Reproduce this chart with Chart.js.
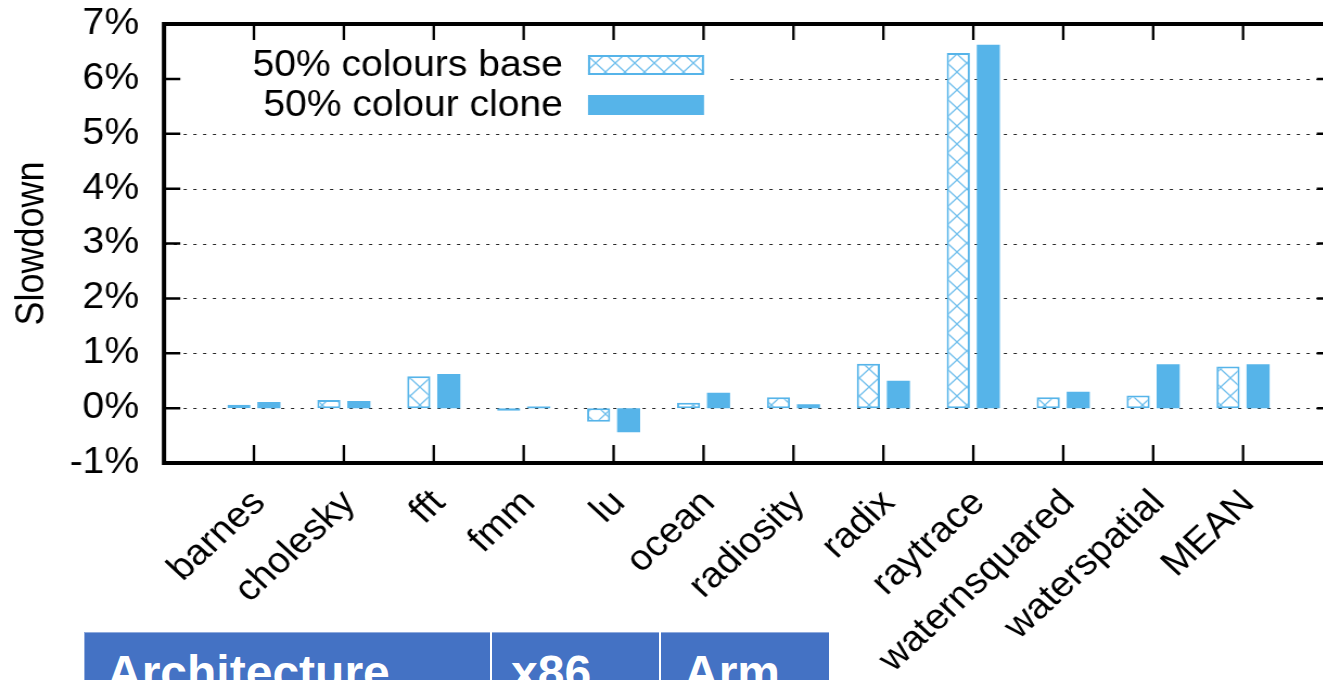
<!DOCTYPE html>
<html>
<head>
<meta charset="utf-8">
<script src="https://cdn.jsdelivr.net/npm/chart.js@4.4.0/dist/chart.umd.min.js"></script>
<style>
  html, body { margin: 0; padding: 0; overflow: hidden; background: #fff; }
  #page { position: relative; width: 1323px; height: 680px; overflow: hidden; }
  /* the original figure is a little wider than it is tall, so stretch it */
  #wrap { position: absolute; left: 0; top: 0; transform: scaleX(1.085); transform-origin: 0 0; }
  #arch { position: absolute; left: 84px; top: 632px; border-collapse: collapse; }
  #arch td {
    background: #4472c4; color: #fff; height: 60px; padding: 0 0 0 22px;
    font: bold 48px "Liberation Sans", Arial, sans-serif; line-height: 48px;
    vertical-align: top; border-left: 2px solid #fff; border-top: 1px solid #8faadc;
  }
  #arch td:first-child { border-left: 1px solid #8faadc; }
  #arch td span { position: relative; top: 16px; }
</style>
</head>
<body>
<div id="page">
  <div id="wrap">
    <canvas id="slowdown_chart" width="1240" height="680"></canvas>
  </div>
  <table id="arch"><tr>
    <td style="width:383px"><span>Architecture</span></td>
    <td style="width:148px; padding-left:19px"><span>x86</span></td>
    <td style="width:145px; padding-left:23px"><span>Arm</span></td>
  </tr></table>
</div>
<script>
const categories = ["barnes", "cholesky", "fft", "fmm", "lu", "ocean", "radiosity",
  "radix", "raytrace", "waternsquared", "waterspatial", "MEAN"];
const baseValues = [0.06, 0.15, 0.58, -0.05, -0.25, 0.10, 0.20, 0.81, 6.47, 0.20, 0.23, 0.76];
const cloneValues = [0.11, 0.13, 0.62, 0.03, -0.44, 0.28, 0.07, 0.50, 6.62, 0.30, 0.80, 0.80];
const yTicks = [-1, 0, 1, 2, 3, 4, 5, 6, 7];
const seriesLabels = ["50% colours base", "50% colour clone"];

const BLUE = "#56b4e9";
const FONT = "'Liberation Sans', Arial, sans-serif";
const SX = 1.085; // horizontal stretch of the canvas

function makeHatch() {
  const c = document.createElement("canvas");
  c.width = 18;
  c.height = 18;
  const g = c.getContext("2d");
  g.fillStyle = "#fff";
  g.fillRect(0, 0, 18, 18);
  g.strokeStyle = "#72c0ed";
  g.lineWidth = 1.3;
  g.beginPath();
  g.moveTo(0, 0); g.lineTo(18, 18);
  g.moveTo(18, 0); g.lineTo(0, 18);
  g.stroke();
  return g.createPattern(c, "repeat");
}

const hatch = makeHatch();

const gnuplotFrame = {
  id: "gnuplotFrame",
  beforeDatasetsDraw(chart) {
    const { ctx, chartArea: a, scales } = chart;
    ctx.save();
    ctx.strokeStyle = "rgba(0,0,0,0.85)";
    ctx.lineWidth = 1.2;
    ctx.setLineDash([3, 6]);
    yTicks.slice(1, -1).forEach((v) => {
      const y = Math.round(scales.y.getPixelForValue(v)) + 0.5;
      ctx.beginPath();
      ctx.moveTo(a.left, y);
      ctx.lineTo(a.right, y);
      ctx.stroke();
    });
    ctx.restore();
  },
  afterDatasetsDraw(chart) {
    const { ctx, chartArea: a } = chart;
    ctx.save();
    // legend box is opaque, it hides the grid behind it
    ctx.fillStyle = "#fff";
    ctx.fillRect(a.left + 3, 40, 726 / SX - a.left - 3, 84);
    ctx.font = "36px " + FONT;
    ctx.textAlign = "right";
    ctx.textBaseline = "middle";
    const rows = [65, 105];
    const sx = 588 / SX;
    const sw = 116 / SX;
    chart.data.datasets.forEach((ds, i) => {
      const y = rows[i];
      ctx.fillStyle = "#000";
      ctx.fillText(ds.label, 563 / SX, y + 1);
      ctx.fillStyle = ds.backgroundColor;
      ctx.fillRect(sx, y - 10, sw, 20);
      if (ds.borderWidth) {
        ctx.strokeStyle = ds.borderColor;
        ctx.lineWidth = ds.borderWidth;
        ctx.strokeRect(sx + 1, y - 9, sw - 2, 18);
      }
    });
    ctx.restore();
  },
  afterDraw(chart) {
    const { ctx, chartArea: a, scales } = chart;
    ctx.save();
    ctx.strokeStyle = "#000";
    ctx.lineWidth = 2.5;
    ctx.beginPath();
    yTicks.forEach((v) => {
      const y = scales.y.getPixelForValue(v);
      ctx.moveTo(a.left, y); ctx.lineTo(a.left + 15, y);
      ctx.moveTo(a.right, y); ctx.lineTo(a.right - 15, y);
    });
    ctx.stroke();
    ctx.lineWidth = 2.3;
    ctx.beginPath();
    categories.forEach((c, i) => {
      const x = scales.x.getPixelForValue(i);
      ctx.moveTo(x, a.bottom); ctx.lineTo(x, a.bottom - 18);
      ctx.moveTo(x, a.top); ctx.lineTo(x, a.top + 16);
    });
    ctx.stroke();
    ctx.lineWidth = 4;
    ctx.strokeRect(a.left, a.top, a.right - a.left, a.bottom - a.top);
    ctx.restore();
  },
};

function createSlowdownChart() {
  const ctx = document.getElementById("slowdown_chart");
  Chart.defaults.font.family = FONT;
  Chart.defaults.color = "#000";
  return new Chart(ctx, {
    type: "bar",
    data: {
      datasets: [
        {
          label: seriesLabels[0],
          data: baseValues.map((v, i) => ({ x: i, y: v })),
          backgroundColor: hatch,
          borderColor: BLUE,
          borderWidth: 2,
          borderSkipped: false,
        },
        {
          label: seriesLabels[1],
          data: cloneValues.map((v, i) => ({ x: i, y: v })),
          backgroundColor: BLUE,
          borderWidth: 0,
        },
      ],
    },
    options: {
      responsive: false,
      animation: false,
      categoryPercentage: 0.667,
      barPercentage: 0.77,
      layout: { padding: { top: 24, right: 1240 - 1333 / SX, bottom: 0, left: 0 } },
      plugins: {
        legend: { display: false },
        tooltip: { enabled: false },
      },
      scales: {
        x: {
          type: "linear",
          min: -1,
          max: 12,
          offset: false,
          grid: { display: false, offset: false, drawTicks: false },
          border: { display: false },
          afterBuildTicks: function (scale) {
            scale.ticks = categories.map((c, i) => ({ value: i }));
          },
          afterFit: function (scale) {
            scale.height = 217;
            scale.paddingLeft = 0;
            scale.paddingRight = 0;
          },
          ticks: {
            autoSkip: false,
            minRotation: 45,
            maxRotation: 45,
            padding: 19,
            labelOffset: 5,
            font: { size: 36 },
            callback: function (value) {
              return categories[value];
            },
          },
        },
        y: {
          min: -1,
          max: 7,
          grid: { display: false, drawTicks: false },
          border: { display: false },
          afterBuildTicks: function (scale) {
            scale.ticks = yTicks.map((v) => ({ value: v }));
          },
          afterFit: function (scale) {
            scale.width = 164 / SX;
            scale.paddingTop = 0;
            scale.paddingBottom = 0;
          },
          title: {
            display: true,
            text: "Slowdown",
            font: { size: 36 },
            padding: { top: 8, bottom: 0 },
          },
          ticks: {
            padding: 23,
            font: { size: 36 },
            callback: function (value) {
              return value + "%";
            },
          },
        },
      },
    },
    plugins: [gnuplotFrame],
  });
}

createSlowdownChart();
</script>
</body>
</html>
